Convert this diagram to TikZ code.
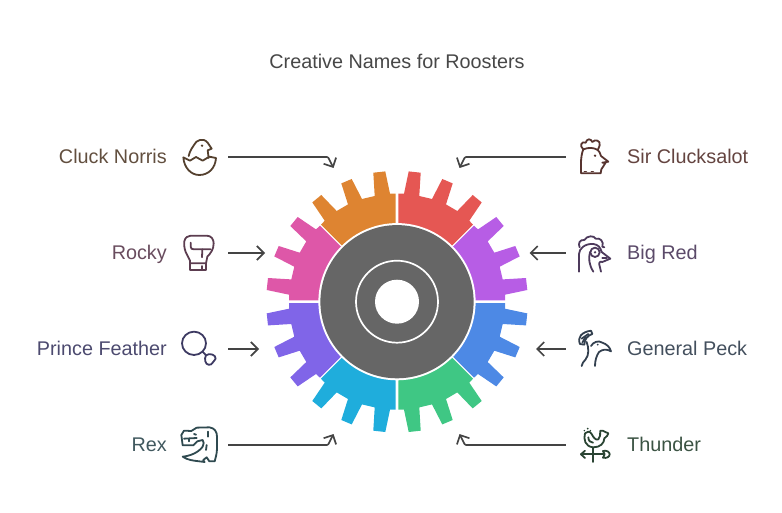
\documentclass[tikz,border=0pt]{standalone}
\usepackage{fontspec}
\setmainfont{Liberation Sans}
\usetikzlibrary{arrows.meta}
\definecolor{cRed}{HTML}{E55753}\definecolor{cOrange}{HTML}{DE8431}
\definecolor{cPink}{HTML}{DE57A8}\definecolor{cLilac}{HTML}{B75DE5}
\definecolor{cBlue}{HTML}{4D89E5}\definecolor{cGreen}{HTML}{3FC784}
\definecolor{cCyan}{HTML}{1FADDC}\definecolor{cViolet}{HTML}{8065E8}
\definecolor{cDark}{HTML}{666666}\definecolor{cArrow}{HTML}{444444}
\definecolor{tA}{HTML}{54402E}\definecolor{tB}{HTML}{5C3D50}
\definecolor{tC}{HTML}{3D3A62}\definecolor{tD}{HTML}{2F4A50}
\definecolor{tE}{HTML}{57342F}\definecolor{tF}{HTML}{4D3A5C}
\definecolor{tG}{HTML}{33404F}\definecolor{tH}{HTML}{2A4433}
\tikzset{
 label/.style={font=\fontsize{19.8}{24}\selectfont,inner sep=0pt},
 iconbox/.style={minimum width=56pt,minimum height=40pt,inner sep=0pt},
 conn/.style={draw=cArrow,line width=1.6pt,rounded corners=1pt,-{Straight Barb[length=7pt,width=14pt,line width=1.7pt]}},
 icon/.style={line width=1.8pt,line cap=round,line join=round},
 zoomL/.style={shift={(170,#1)},scale=1/3},
 zoomR/.style={shift={(565,#1)},scale=1/3},
 sectorpts/.pic={\fill[pic actions] (1.3,50)--(1.3,108)--(7,108)--(11.7,130.3)--(23.7,129)--(22.3,105.7)--(35,102.7)--(45.3,122.7)--(55.7,118.3)--(49,97.3)--(60.3,90.7)--(75.7,106.7)--(84.7,99.3)--(72.3,81)--(76,77)--(40,41)--cycle;}
}
\begin{document}
\begin{tikzpicture}[x=1pt,y=-1pt]
\useasboundingbox (0,0) rectangle (782,513);
\node[label,text=black!72] (title) at (397,61) {Creative Names for Roosters};
% gear
\begin{scope}[shift={(397,301.7)}]
 \pic[fill=cRed,yscale=-1]{sectorpts};
 \pic[fill=cOrange,xscale=-1,yscale=-1]{sectorpts};
 \pic[fill=cGreen]{sectorpts};
 \pic[fill=cCyan,xscale=-1]{sectorpts};
 \pic[fill=cBlue,cm={0,-1,-1,0,(0,0)}]{sectorpts};
 \pic[fill=cViolet,cm={0,-1,1,0,(0,0)}]{sectorpts};
 \pic[fill=cLilac,cm={0,1,-1,0,(0,0)}]{sectorpts};
 \pic[fill=cPink,cm={0,1,1,0,(0,0)}]{sectorpts};
 \fill[white] (0,0) circle[radius=78.6];
 \fill[cDark] (0,0) circle[radius=76.6];
 \draw[white,line width=1.7pt] (0,0) circle[radius=41];
 \fill[white] (0,0) circle[radius=22];
\end{scope}
% icon anchors
\node[iconbox] (iA) at (200,157) {};
\node[iconbox] (iB) at (200,253) {};
\node[iconbox] (iC) at (200,349) {};
\node[iconbox] (iD) at (200,445) {};
\node[iconbox] (iE) at (594,157) {};
\node[iconbox] (iF) at (594,253) {};
\node[iconbox] (iG) at (594,349) {};
\node[iconbox] (iH) at (594,445) {};
% labels
\node[label,anchor=base east,text=tA!92!white] (lA) at (167,163.5) {Cluck Norris};
\node[label,anchor=base east,text=tB!92!white] (lB) at (167,259.5) {Rocky};
\node[label,anchor=base east,text=tC!92!white] (lC) at (167,355.5) {Prince Feather};
\node[label,anchor=base east,text=tD!92!white] (lD) at (167,451.5) {Rex};
\node[label,anchor=base west,text=tE!92!white] (lE) at (627,163.5) {Sir Clucksalot};
\node[label,anchor=base west,text=tF!92!white] (lF) at (627,259.5) {Big Red};
\node[label,anchor=base west,text=tG!92!white] (lG) at (627,355.5) {General Peck};
\node[label,anchor=base west,text=tH!92!white] (lH) at (627,451.5) {Thunder};
% connector ends
\coordinate (eA) at (333.5,168); \coordinate (bA) at (328,157);
\coordinate (eD) at (333.5,434); \coordinate (bD) at (328,445);
\coordinate (eE) at (459.5,168); \coordinate (bE) at (465,157);
\coordinate (eH) at (459.5,434); \coordinate (bH) at (465,445);
\coordinate (eB) at (265,253); \coordinate (eF) at (529.5,253);
\coordinate (eC) at (259,349); \coordinate (eG) at (536,349);
\draw[conn] (iA.east) -- (bA) -- (eA);
\draw[conn] (iD.east) -- (bD) -- (eD);
\draw[conn] (iE.west) -- (bE) -- (eE);
\draw[conn] (iH.west) -- (bH) -- (eH);
\draw[conn] (iB.east) -- (eB);
\draw[conn] (iF.west) -- (eF);
\draw[conn] (iC.east) -- (eC);
\draw[conn] (iG.west) -- (eG);
% chick
\begin{scope}[zoomL=130,icon,draw=tA]
 \draw (40,82) -- (60,92) -- (78,81) -- (98,92) -- (118,80) -- (138,84) .. controls (136,115) and (115,135) .. (88,135) .. controls (62,135) and (42,112) .. cycle;
 \draw (56,78) .. controls (60,60) and (68,52) .. (72,45) .. controls (78,30) and (100,22) .. (113,38) -- (125,56) -- (113,61) -- (116,84);
 \fill[tA] (96,47) circle[radius=4];
\end{scope}
% glove
\begin{scope}[zoomL=130,icon,draw=tB]
 \draw (60,400) -- (60,392) -- (47,366) .. controls (42,352) and (42,342) .. (43,334) .. controls (45,323) and (53,317) .. (62,317) -- (110,317) .. controls (124,317) and (131,328) .. (131,340) .. controls (131,358) and (122,370) .. (112,380) -- (108,400) -- cycle;
 \draw (62,338) -- (62,350) .. controls (62,356) and (66,358) .. (72,358) -- (122,358);
 \draw (97,358) -- (96,382);
 \draw (60,400) -- (60,420) -- (108,420) -- (108,400);
 \draw (97,408) -- (97,418);
\end{scope}
% balloon
\begin{scope}[zoomL=320,icon,draw=tC]
 \draw (72,70) circle[x radius=36,y radius=35];
 \draw (98,95) -- (108,106);
 \draw (108,106) .. controls (118,98) and (138,104) .. (137,116) .. controls (136,124) and (128,122) .. (128,128) .. controls (124,138) and (108,136) .. (106,124) .. controls (105,118) and (104,112) .. (108,106);
\end{scope}
% dino
\begin{scope}[zoomL=320,icon,draw=tD]
 \draw (34,345) -- (42,332) -- (64,333) -- (80,323) -- (118,322) .. controls (134,324) and (141,335) .. (141,350) -- (141,385) .. controls (141,400) and (137,412) .. (134,424) -- (118,424) -- (110,412) .. controls (100,420) and (95,422) .. (104,426) -- (88,424) .. controls (70,422) and (52,420) .. (38,410) .. controls (60,408) and (85,398) .. (98,380) .. controls (102,372) and (102,366) .. (98,360) -- (82,364) -- (70,376) -- (38,376) -- (34,345) -- cycle;
 \draw (42,356) -- (80,354);
 \draw (56,356) -- (56,364);
 \draw (72,342) -- (78,344);
 \draw[dash pattern=on 5pt off 9pt] (113,335) -- (113,368);
 \draw[dash pattern=on 5pt off 9pt] (110,375) -- (108,390);
\end{scope}
% sir
\begin{scope}[zoomR=130,icon,draw=tE]
 \draw (55,58) .. controls (42,48) and (50,32) .. (62,38) .. controls (66,24) and (78,26) .. (82,36) .. controls (90,26) and (108,32) .. (104,46) .. controls (102,52) and (100,56) .. (98,60);
 \draw (55,58) .. controls (70,52) and (86,52) .. (98,60);
 \draw (55,58) .. controls (50,70) and (48,85) .. (48,100) -- (48,130) -- (107,130) -- (109,118) -- (122,98) -- (112,98) -- (130,95) -- (108,78) .. controls (106,68) and (102,64) .. (98,60);
 \draw[tE,line width=1.4pt,dash pattern=on 2pt off 5pt] (58,124) -- (100,124);
 \fill[tE] (90,77) circle[radius=4];
\end{scope}
% big red
\begin{scope}[zoomR=130,icon,draw=tF]
 \draw (42,425) -- (42,372) .. controls (42,356) and (60,340) .. (85,342) .. controls (100,344) and (106,352) .. (110,366) -- (136,386) -- (112,396) .. controls (104,392) and (100,400) .. (104,408) -- (108,425);
 \draw (44,352) .. controls (38,340) and (45,328) .. (58,330) .. controls (66,316) and (88,316) .. (92,326) .. controls (105,322) and (118,335) .. (112,350) -- (118,352);
 \draw (90,367) circle[radius=14];
 \fill[tF] (90,367) circle[radius=4];
 \draw (75,366) .. controls (70,385) and (72,405) .. (85,425);
 \draw (112,384) -- (126,384);
\end{scope}
% general
\begin{scope}[zoomR=320,icon,draw=tG]
 \draw (45,72) .. controls (36,52) and (50,36) .. (78,32) -- (82,42) .. controls (68,46) and (58,58) .. (58,74) -- cycle;
 \draw (50,56) -- (70,42);
 \draw (52,68) -- (62,50);
 \draw (65,66) .. controls (72,85) and (72,105) .. (62,118) .. controls (56,126) and (50,130) .. (50,138);
 \draw (78,78) .. controls (85,66) and (100,60) .. (112,68) .. controls (125,72) and (135,82) .. (138,94) .. controls (125,86) and (112,88) .. (102,96) .. controls (94,108) and (90,122) .. (90,138);
 \fill[tG] (98,74) circle[radius=3];
\end{scope}
% thunder
\begin{scope}[zoomR=320,icon,draw=tH]
 \draw (48,403) -- (115,403);
 \draw (60,392) -- (48,403) -- (60,414);
 \draw (114,393) .. controls (125,390) and (134,396) .. (134,403) .. controls (134,410) and (125,416) .. (114,413) -- (119,403) -- cycle;
 \draw (85,383) -- (85,426);
 \draw (60,340) .. controls (55,358) and (60,380) .. (85,382) .. controls (105,382) and (118,370) .. (118,355) .. controls (125,350) and (130,345) .. (130,340) .. controls (122,340) and (118,330) .. (106,332) .. controls (104,345) and (108,350) .. (100,358) .. controls (92,362) and (85,352) .. (80,342) .. controls (74,332) and (65,334) .. (60,340);
 \draw (70,352) .. controls (70,362) and (76,368) .. (84,368);
 \fill[tH] (68,326) circle[radius=3];
 \fill[tH] (58,332) circle[radius=2.5];
 \fill[tH] (76,332) circle[radius=2.5];
\end{scope}
\end{tikzpicture}
\end{document}
